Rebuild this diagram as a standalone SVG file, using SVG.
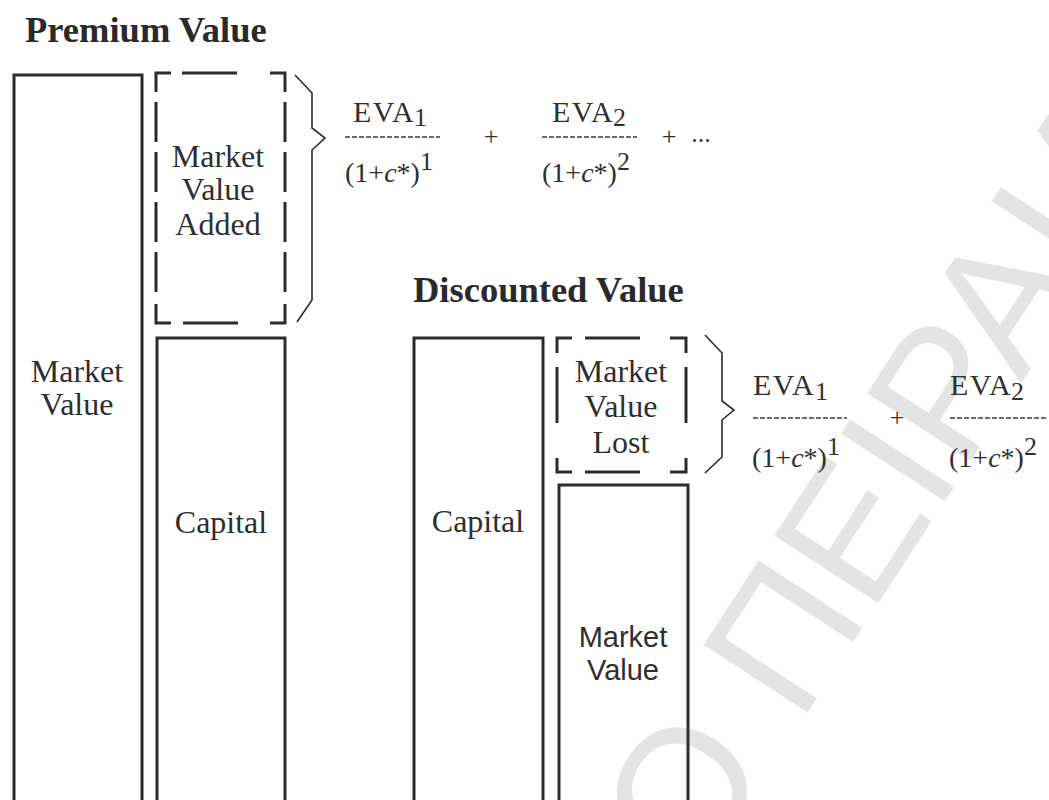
<svg xmlns="http://www.w3.org/2000/svg" width="1049" height="800" viewBox="0 0 1049 800">
<style>
.bg{fill:#ffffff}
.box{fill:none;stroke:#2b2b2b;stroke-width:3}
.dash{fill:none;stroke:#2b2b2b;stroke-width:3;stroke-linecap:butt}
.brace{fill:none;stroke:#2b2b2b;stroke-width:1.6;stroke-linejoin:miter}
.frac{stroke:#3a3a3a;stroke-width:1.5;stroke-dasharray:5 2}
.title{font-family:"Liberation Serif",serif;font-weight:bold;font-size:36.5px;fill:#2a2a2a}
.lbl{font-family:"Liberation Serif",serif;font-size:32px;fill:#2f2f2f;text-anchor:middle}
.sans{font-family:"Liberation Sans",sans-serif;font-size:29px;fill:#2f2f2f;text-anchor:middle}
.num{font-family:"Liberation Serif",serif;font-size:30px;fill:#2f2f2f;letter-spacing:1.5px}
.den{font-family:"Liberation Serif",serif;font-size:28px;fill:#2f2f2f}
.sub{font-family:"Liberation Serif",serif;font-size:26px;fill:#2f2f2f}
.op{font-family:"Liberation Serif",serif;font-size:26px;fill:#2f2f2f;text-anchor:middle}
.wm{font-family:"Liberation Sans",sans-serif;font-size:180px;fill:#e4e4e4}
</style>
<rect class="bg" x="0" y="0" width="1049" height="800"/>
<text class="wm" transform="translate(696,884) rotate(-57)">Ο ΠΕΙΡΑΙΑ</text>

<g id="title-premium"><text class="title" x="25" y="42">Premium Value</text></g>

<g id="premium-market-value">
<rect class="box" x="14" y="75" width="128" height="727"/>
<text class="lbl" x="77" y="382">Market</text>
<text class="lbl" x="77" y="415">Value</text>
</g>

<g id="market-value-added">
<path class="dash" d="M156,92 V73 H171 M182,73 H237 M270,73 H285 V92 M156,102 V142 M156,152 V192 M156,202 V242 M156,252 V292 M285,102 V142 M285,152 V192 M285,202 V242 M285,252 V292 M156,304 V323 H171 M183,323 H238 M270,323 H285 V304"/>
<text class="lbl" x="218" y="167">Market</text>
<text class="lbl" x="218" y="200">Value</text>
<text class="lbl" x="218" y="235">Added</text>
</g>

<g id="premium-capital">
<rect class="box" x="157" y="338" width="128" height="464"/>
<text class="lbl" x="221" y="533">Capital</text>
</g>

<g id="formula-premium">
<text class="num" x="353" y="122">EVA</text><text class="sub" x="414" y="126">1</text>
<text class="den" x="345" y="182">(1+<tspan font-style="italic">c</tspan>*)</text><text class="sub" x="420" y="170">1</text>
<text class="op" x="491" y="145">+</text>
<text class="num" x="552" y="122">EVA</text><text class="sub" x="613" y="126">2</text>
<text class="den" x="542" y="182">(1+<tspan font-style="italic">c</tspan>*)</text><text class="sub" x="617" y="170">2</text>
<text class="op" x="669" y="145">+</text>
<text class="op" x="701" y="142">...</text>
</g>

<g id="title-discounted"><text class="title" x="413" y="302">Discounted Value</text></g>

<g id="discounted-capital">
<rect class="box" x="414" y="338" width="129" height="464"/>
<text class="lbl" x="478" y="532">Capital</text>
</g>

<g id="market-value-lost">
<path class="dash" d="M557,353 V338 H572 M585,338 H640 M670,338 H686 V353 M557,367 V423 M686,367 V423 M557,458 V472 H572 M585,472 H640 M670,472 H686 V458"/>
<text class="lbl" x="621" y="382">Market</text>
<text class="lbl" x="621" y="417">Value</text>
<text class="lbl" x="621" y="453">Lost</text>
</g>

<g id="discounted-market-value">
<rect class="box" x="559" y="485" width="129" height="317"/>
<text class="sans" x="623" y="647">Market</text>
<text class="sans" x="623" y="680">Value</text>
</g>

<g id="formula-discounted">
<text class="num" x="753" y="395">EVA</text><text class="sub" x="815" y="400">1</text>
<text class="den" x="752" y="467">(1+<tspan font-style="italic">c</tspan>*)</text><text class="sub" x="827" y="455">1</text>
<text class="op" x="897" y="426">+</text>
<text class="num" x="950" y="395">EVA</text><text class="sub" x="1011" y="400">2</text>
<text class="den" x="949" y="467">(1+<tspan font-style="italic">c</tspan>*)</text><text class="sub" x="1024" y="455">2</text>
</g>

<g id="connectors">
<path class="brace" d="M295,75 L312,93 L312,128 L325,138 L312,150 L312,300 L297,322"/>
<path class="brace" d="M705,335 L722,353 L722,401 L734,410 L722,420 L722,457 L705,473"/>
<line class="frac" x1="345" y1="137" x2="440" y2="137"/>
<line class="frac" x1="542" y1="137" x2="637" y2="137"/>
<line class="frac" x1="753" y1="418" x2="847" y2="418"/>
<line class="frac" x1="950" y1="418" x2="1048" y2="418"/>
</g>
</svg>
